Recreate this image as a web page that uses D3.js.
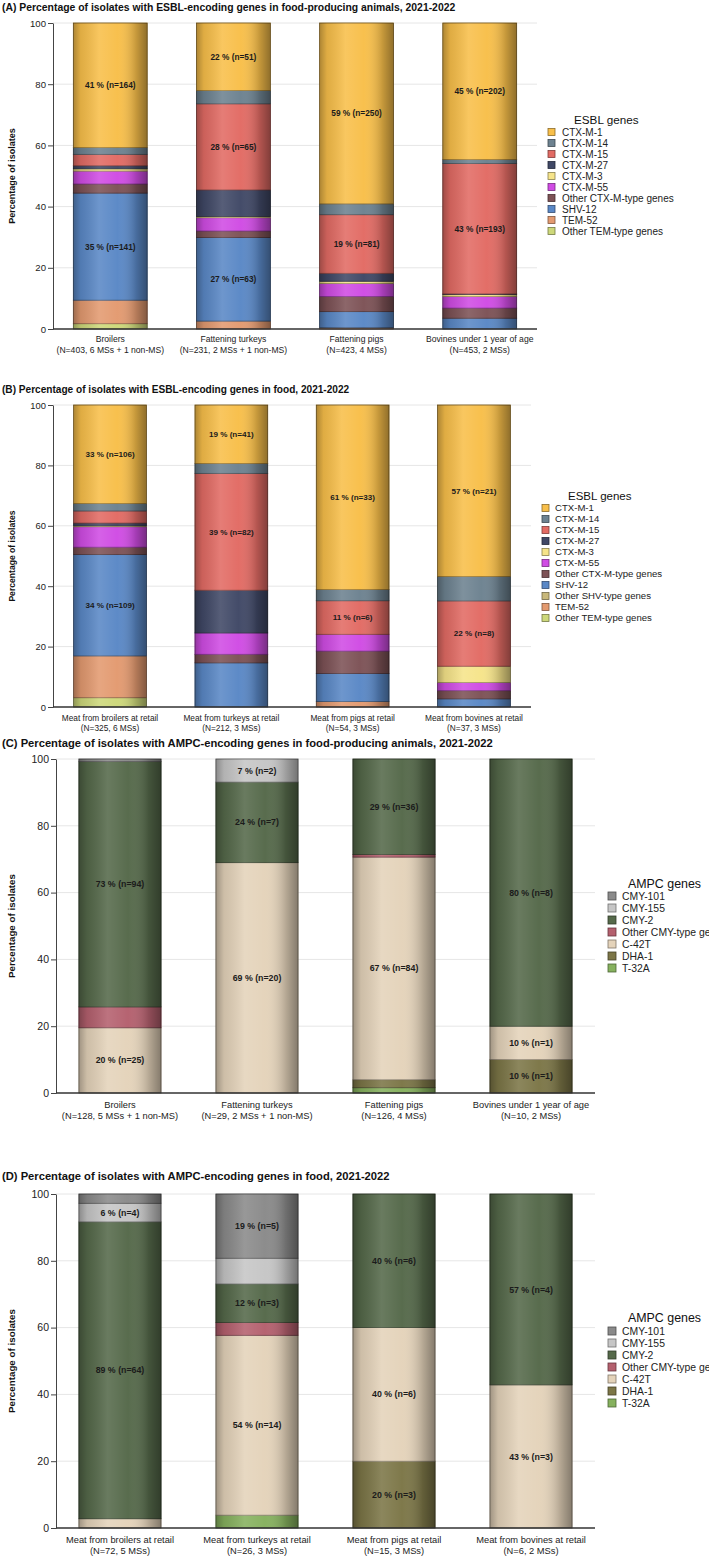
<!DOCTYPE html>
<html>
<head>
<meta charset="utf-8">
<script src="https://cdn.jsdelivr.net/npm/d3@7"></script>
<style>
  body { margin: 0; background: #fff; }
  svg { display: block; font-family: "Liberation Sans", Arial, sans-serif; }
</style>
</head>
<body>
<svg id="chart" width="709" height="1557"></svg>
<script>
// ---- data ----
const yTicks = [0, 20, 40, 60, 80, 100];

const animalCats = ['Broilers', 'Fattening turkeys', 'Fattening pigs', 'Bovines under 1 year of age'];
const foodCats = ['Meat from broilers at retail', 'Meat from turkeys at retail',
  'Meat from pigs at retail', 'Meat from bovines at retail'];

const esblAnimalN = ['(N=403, 6 MSs + 1 non-MS)', '(N=231, 2 MSs + 1 non-MS)', '(N=423, 4 MSs)', '(N=453, 2 MSs)'];
const esblFoodN = ['(N=325, 6 MSs)', '(N=212, 3 MSs)', '(N=54, 3 MSs)', '(N=37, 3 MSs)'];
const ampcAnimalN = ['(N=128, 5 MSs + 1 non-MS)', '(N=29, 2 MSs + 1 non-MS)', '(N=126, 4 MSs)', '(N=10, 2 MSs)'];
const ampcFoodN = ['(N=72, 5 MSs)', '(N=26, 3 MSs)', '(N=15, 3 MSs)', '(N=6, 2 MSs)'];

// legend order, top to bottom (stacks are drawn bottom-up in reverse)
const esblAnimalGenes = ['CTX-M-1', 'CTX-M-14', 'CTX-M-15', 'CTX-M-27', 'CTX-M-3', 'CTX-M-55',
  'Other CTX-M-type genes', 'SHV-12', 'TEM-52', 'Other TEM-type genes'];
const esblFoodGenes = ['CTX-M-1', 'CTX-M-14', 'CTX-M-15', 'CTX-M-27', 'CTX-M-3', 'CTX-M-55',
  'Other CTX-M-type genes', 'SHV-12', 'Other SHV-type genes', 'TEM-52', 'Other TEM-type genes'];
const ampcGenes = ['CMY-101', 'CMY-155', 'CMY-2', 'Other CMY-type genes', 'C-42T', 'DHA-1', 'T-32A'];

// number of isolates per gene (rows) and category (columns)
const esblAnimalCounts = [
  [164, 51, 250, 202],
  [9, 10, 15, 6],
  [15, 65, 81, 193],
  [4, 20, 11, 1],
  [3, 1, 3, 3],
  [17, 10, 18, 17],
  [12, 5, 21, 15],
  [141, 63, 22, 16],
  [31, 6, 2, 0],
  [7, 0, 0, 0]
];
const esblFoodCounts = [
  [106, 41, 33, 21],
  [8, 7, 2, 3],
  [13, 82, 6, 8],
  [3, 30, 0, 0],
  [1, 0, 0, 2],
  [22, 15, 3, 1],
  [8, 6, 4, 1],
  [109, 31, 5, 1],
  [0, 0, 0, 0],
  [45, 0, 1, 0],
  [10, 0, 0, 0]
];
const ampcAnimalCounts = [
  [1, 0, 0, 0],
  [0, 2, 0, 0],
  [94, 7, 36, 8],
  [8, 0, 1, 0],
  [25, 20, 84, 1],
  [0, 0, 3, 1],
  [0, 0, 2, 0]
];
const ampcFoodCounts = [
  [2, 5, 0, 0],
  [4, 2, 0, 0],
  [64, 3, 6, 4],
  [0, 1, 0, 0],
  [2, 14, 6, 3],
  [0, 0, 3, 0],
  [0, 1, 0, 0]
];

// which segments carry a "% (n=)" label, per category
const esblAnimalLabels = [['CTX-M-1', 'SHV-12'], ['CTX-M-1', 'CTX-M-15', 'SHV-12'], ['CTX-M-1', 'CTX-M-15'], ['CTX-M-1', 'CTX-M-15']];
const esblFoodLabels = [['CTX-M-1', 'SHV-12'], ['CTX-M-1', 'CTX-M-15'], ['CTX-M-1', 'CTX-M-15'], ['CTX-M-1', 'CTX-M-15']];
const ampcAnimalLabels = [['CMY-2', 'C-42T'], ['CMY-155', 'CMY-2', 'C-42T'], ['CMY-2', 'C-42T'], ['CMY-2', 'C-42T', 'DHA-1']];
const ampcFoodLabels = [['CMY-155', 'CMY-2'], ['CMY-101', 'CMY-2', 'C-42T'], ['CMY-2', 'C-42T', 'DHA-1'], ['CMY-2', 'C-42T']];

const geneColors = {
  'CTX-M-1': '#f8bf4a',
  'CTX-M-14': '#6d8290',
  'CTX-M-15': '#e26b64',
  'CTX-M-27': '#404866',
  'CTX-M-3': '#f6e48a',
  'CTX-M-55': '#d04ce4',
  'Other CTX-M-type genes': '#7d5256',
  'SHV-12': '#5a88c6',
  'Other SHV-type genes': '#c8b87a',
  'TEM-52': '#e39a70',
  'Other TEM-type genes': '#cdd87a',
  'CMY-101': '#8a8a8a',
  'CMY-155': '#c6c6c6',
  'CMY-2': '#55694a',
  'Other CMY-type genes': '#b4606e',
  'C-42T': '#e4d3ba',
  'DHA-1': '#7c7647',
  'T-32A': '#86b15e'
};

// ---- drawing ----
const svg = d3.select('#chart');
const font = '"Liberation Sans", Arial, sans-serif';

const grad = svg.append('defs').append('linearGradient')
  .attr('id', 'shade')
  .attr('x1', 0).attr('x2', 1).attr('y1', 0).attr('y2', 0);
[[0, '#000', 0.3], [0.1, '#000', 0.1], [0.35, '#fff', 0.12], [0.6, '#fff', 0.02], [0.85, '#000', 0.2], [1, '#000', 0.42]]
  .forEach(s => grad.append('stop').attr('offset', s[0]).attr('stop-color', s[1]).attr('stop-opacity', s[2]));

function drawPanel(p) {
  const g = svg.append('g');
  const x = d3.scaleBand().domain(p.cats).range([p.left, p.right])
    .paddingInner(0.4).paddingOuter(p.pOuter);
  const y = d3.scaleLinear().domain([0, 100]).range([p.bottom, p.top]);

  g.append('text')
    .attr('x', 2).attr('y', p.titleY)
    .attr('font-size', p.titleSize).attr('font-weight', 'bold').attr('fill', '#111')
    .text(p.title);

  g.append('g').selectAll('line')
    .data(yTicks.slice(1))
    .join('line')
    .attr('x1', p.left).attr('x2', p.right)
    .attr('y1', d => y(d)).attr('y2', d => y(d))
    .attr('stroke', '#e6e6e6').attr('stroke-width', 1);

  const segs = [];
  p.cats.forEach((c, j) => {
    const total = d3.sum(p.counts, r => r[j]);
    let acc = 0;
    for (let i = p.genes.length - 1; i >= 0; i--) {
      const n = p.counts[i][j];
      if (!n) continue;
      const pct = n / total * 100;
      segs.push({ cat: c, gene: p.genes[i], n, pct, y0: acc, y1: acc + pct,
        label: p.labels[j].includes(p.genes[i]) });
      acc += pct;
    }
  });

  g.append('g').selectAll('rect')
    .data(segs)
    .join('rect')
    .attr('x', d => x(d.cat))
    .attr('width', x.bandwidth())
    .attr('y', d => y(d.y1))
    .attr('height', d => y(d.y0) - y(d.y1))
    .attr('fill', d => geneColors[d.gene])
    .attr('stroke', d => d3.color(geneColors[d.gene]).darker(1.2))
    .attr('stroke-width', 0.8);

  // cylinder-like shading over each bar
  g.append('g').selectAll('rect')
    .data(p.cats)
    .join('rect')
    .attr('x', d => x(d))
    .attr('width', x.bandwidth())
    .attr('y', y(100))
    .attr('height', y(0) - y(100))
    .attr('fill', 'url(#shade)');

  g.append('g').selectAll('rect')
    .data(p.cats)
    .join('rect')
    .attr('x', d => x(d))
    .attr('width', x.bandwidth())
    .attr('y', y(100))
    .attr('height', y(0) - y(100))
    .attr('fill', 'none')
    .attr('stroke', 'rgba(0,0,0,0.35)')
    .attr('stroke-width', 0.6);

  g.append('g').selectAll('text')
    .data(segs.filter(d => d.label))
    .join('text')
    .attr('x', d => x(d.cat) + x.bandwidth() / 2)
    .attr('y', d => y((d.y0 + d.y1) / 2))
    .attr('dy', '0.35em')
    .attr('text-anchor', 'middle')
    .attr('font-size', p.segSize).attr('font-weight', 'bold').attr('fill', '#1b1b1b')
    .text(d => `${Math.round(d.pct)} % (n=${d.n})`);

  const yAxis = g.append('g')
    .attr('transform', `translate(${p.left},0)`)
    .call(d3.axisLeft(y).tickValues(yTicks).tickSize(5).tickSizeOuter(0).tickPadding(2));
  yAxis.select('.domain').attr('stroke', '#444');
  yAxis.selectAll('.tick line').attr('stroke', '#444');
  yAxis.selectAll('.tick text').attr('font-size', p.tickSize).attr('font-family', font).attr('fill', '#222');

  g.append('line')
    .attr('x1', p.left).attr('x2', p.right)
    .attr('y1', y(0)).attr('y2', y(0))
    .attr('stroke', '#333').attr('stroke-width', 1.5);

  const catG = g.append('g').selectAll('text')
    .data(p.cats)
    .join('text')
    .attr('x', d => x(d) + x.bandwidth() / 2)
    .attr('y', p.catY)
    .attr('text-anchor', 'middle')
    .attr('font-size', p.catSize).attr('fill', '#222');
  catG.append('tspan').text(d => d);
  catG.append('tspan')
    .attr('x', d => x(d) + x.bandwidth() / 2)
    .attr('dy', p.catGap)
    .text((d, i) => p.subs[i]);

  g.append('text')
    .attr('transform', `translate(${p.yTitleX},${(y(0) + y(100)) / 2}) rotate(-90)`)
    .attr('text-anchor', 'middle')
    .attr('font-size', p.yTitleSize).attr('font-weight', 'bold').attr('fill', '#111')
    .text('Percentage of isolates');

  const L = p.legend;
  const lg = g.append('g');
  lg.append('text')
    .attr('x', L.titleX).attr('y', L.titleY)
    .attr('font-size', L.titleSize).attr('fill', '#111')
    .text(p.legendTitle);
  const items = lg.selectAll('g')
    .data(p.genes)
    .join('g')
    .attr('transform', (d, i) => `translate(${L.x},${L.y + i * L.step})`);
  items.append('rect')
    .attr('x', 0).attr('y', -L.sw / 2)
    .attr('width', L.sw).attr('height', L.sw)
    .attr('fill', d => geneColors[d])
    .attr('stroke', d => d3.color(geneColors[d]).darker(1.6))
    .attr('stroke-width', 0.8);
  items.append('text')
    .attr('x', L.textDx).attr('dy', '0.35em')
    .attr('font-size', L.itemSize).attr('fill', '#222')
    .text(d => d);
}

drawPanel({
  title: '(A) Percentage of isolates with ESBL-encoding genes in food-producing animals, 2021-2022',
  cats: animalCats, subs: esblAnimalN, genes: esblAnimalGenes, counts: esblAnimalCounts,
  labels: esblAnimalLabels, legendTitle: 'ESBL genes',
  left: 53, right: 537, top: 23, bottom: 329, pOuter: 0.165,
  titleY: 11, titleSize: 10.4, tickSize: 9.6, segSize: 8.3, catSize: 8.6, catY: 342, catGap: 10.5,
  yTitleX: 15, yTitleSize: 9,
  legend: { titleX: 574, titleY: 124, titleSize: 11.7, x: 548, y: 132, step: 11, sw: 7, textDx: 14, itemSize: 10 }
});

drawPanel({
  title: '(B) Percentage of isolates with ESBL-encoding genes in food, 2021-2022',
  cats: foodCats, subs: esblFoodN, genes: esblFoodGenes, counts: esblFoodCounts,
  labels: esblFoodLabels, legendTitle: 'ESBL genes',
  left: 53, right: 531, top: 405, bottom: 707, pOuter: 0.17,
  titleY: 393, titleSize: 10.1, tickSize: 9.4, segSize: 8.1, catSize: 8.3, catY: 721, catGap: 10.3,
  yTitleX: 15, yTitleSize: 8.6,
  legend: { titleX: 568, titleY: 500, titleSize: 11.5, x: 542, y: 508, step: 11, sw: 7, textDx: 13, itemSize: 9.6 }
});

drawPanel({
  title: '(C) Percentage of isolates with AMPC-encoding genes in food-producing animals, 2021-2022',
  cats: animalCats, subs: ampcAnimalN, genes: ampcGenes, counts: ampcAnimalCounts,
  labels: ampcAnimalLabels, legendTitle: 'AMPC genes',
  left: 56, right: 595, top: 759, bottom: 1093, pOuter: 0.167,
  titleY: 747, titleSize: 11.2, tickSize: 10.5, segSize: 8.8, catSize: 9.3, catY: 1108, catGap: 11,
  yTitleX: 15, yTitleSize: 9.8,
  legend: { titleX: 628, titleY: 888, titleSize: 12.4, x: 608, y: 896, step: 12, sw: 8, textDx: 14, itemSize: 10.4 }
});

drawPanel({
  title: '(D) Percentage of isolates with AMPC-encoding genes in food, 2021-2022',
  cats: foodCats, subs: ampcFoodN, genes: ampcGenes, counts: ampcFoodCounts,
  labels: ampcFoodLabels, legendTitle: 'AMPC genes',
  left: 56, right: 595, top: 1194, bottom: 1528, pOuter: 0.167,
  titleY: 1180, titleSize: 11.2, tickSize: 10.5, segSize: 8.8, catSize: 9.3, catY: 1543, catGap: 10.8,
  yTitleX: 15, yTitleSize: 9.8,
  legend: { titleX: 628, titleY: 1322, titleSize: 12.4, x: 608, y: 1331, step: 12, sw: 8, textDx: 14, itemSize: 10.4 }
});
</script>
</body>
</html>
